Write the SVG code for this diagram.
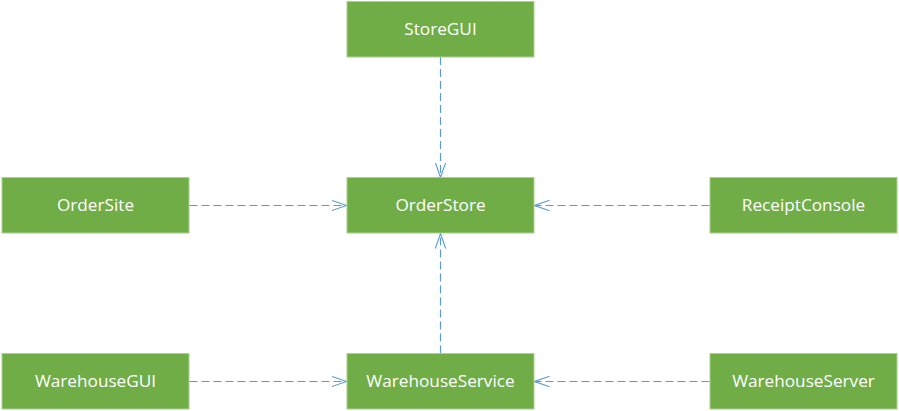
<svg xmlns="http://www.w3.org/2000/svg" width="899" height="411" viewBox="0 0 899 411">
<style>
.node rect{fill:#70ad47;stroke:#a9d18e;stroke-width:1}
.node text{fill:#ffffff;font-family:"Open Sans","Liberation Sans",sans-serif;font-size:17.2px;text-anchor:middle;dominant-baseline:central}
.edge{stroke:#5b9bd5;stroke-width:1.2;stroke-dasharray:8,4;fill:none}
</style>
<defs>
<marker id="arr" viewBox="0 0 16 12" refX="15" refY="6" markerWidth="16" markerHeight="12" markerUnits="userSpaceOnUse" orient="auto">
<path d="M0,0.8 L15,6 L0,11.2" fill="none" stroke="#5b9bd5" stroke-width="1.1"/>
</marker>
</defs>
<rect width="899" height="411" fill="#ffffff"/>
<g id="connectors">
<line class="edge" x1="440.5" y1="57" x2="440.5" y2="177.5" marker-end="url(#arr)"/>
<line class="edge" x1="189.5" y1="205.5" x2="346.5" y2="205.5" marker-end="url(#arr)"/>
<line class="edge" x1="709.5" y1="205.5" x2="534.5" y2="205.5" marker-end="url(#arr)"/>
<line class="edge" x1="440.5" y1="353.5" x2="440.5" y2="233.5" marker-end="url(#arr)"/>
<line class="edge" x1="189.5" y1="381.5" x2="346.5" y2="381.5" marker-end="url(#arr)"/>
<line class="edge" x1="709.5" y1="381.5" x2="534.5" y2="381.5" marker-end="url(#arr)"/>
</g>
<g id="StoreGUI" class="node"><rect x="347" y="1.5" width="187" height="55.5"/><text x="440.5" y="28.5">StoreGUI</text></g>
<g id="OrderSite" class="node"><rect x="2" y="177.5" width="187" height="55.5"/><text x="95.5" y="204.5">OrderSite</text></g>
<g id="OrderStore" class="node"><rect x="347" y="177.5" width="187" height="55.5"/><text x="440.5" y="204.5">OrderStore</text></g>
<g id="ReceiptConsole" class="node"><rect x="710" y="177.5" width="187" height="55.5"/><text x="803.5" y="204.5">ReceiptConsole</text></g>
<g id="WarehouseGUI" class="node"><rect x="2" y="353.5" width="187" height="55.5"/><text x="95.5" y="380.5">WarehouseGUI</text></g>
<g id="WarehouseService" class="node"><rect x="347" y="353.5" width="187" height="55.5"/><text x="440.5" y="380.5">WarehouseService</text></g>
<g id="WarehouseServer" class="node"><rect x="710" y="353.5" width="187" height="55.5"/><text x="803.5" y="380.5">WarehouseServer</text></g>
</svg>
